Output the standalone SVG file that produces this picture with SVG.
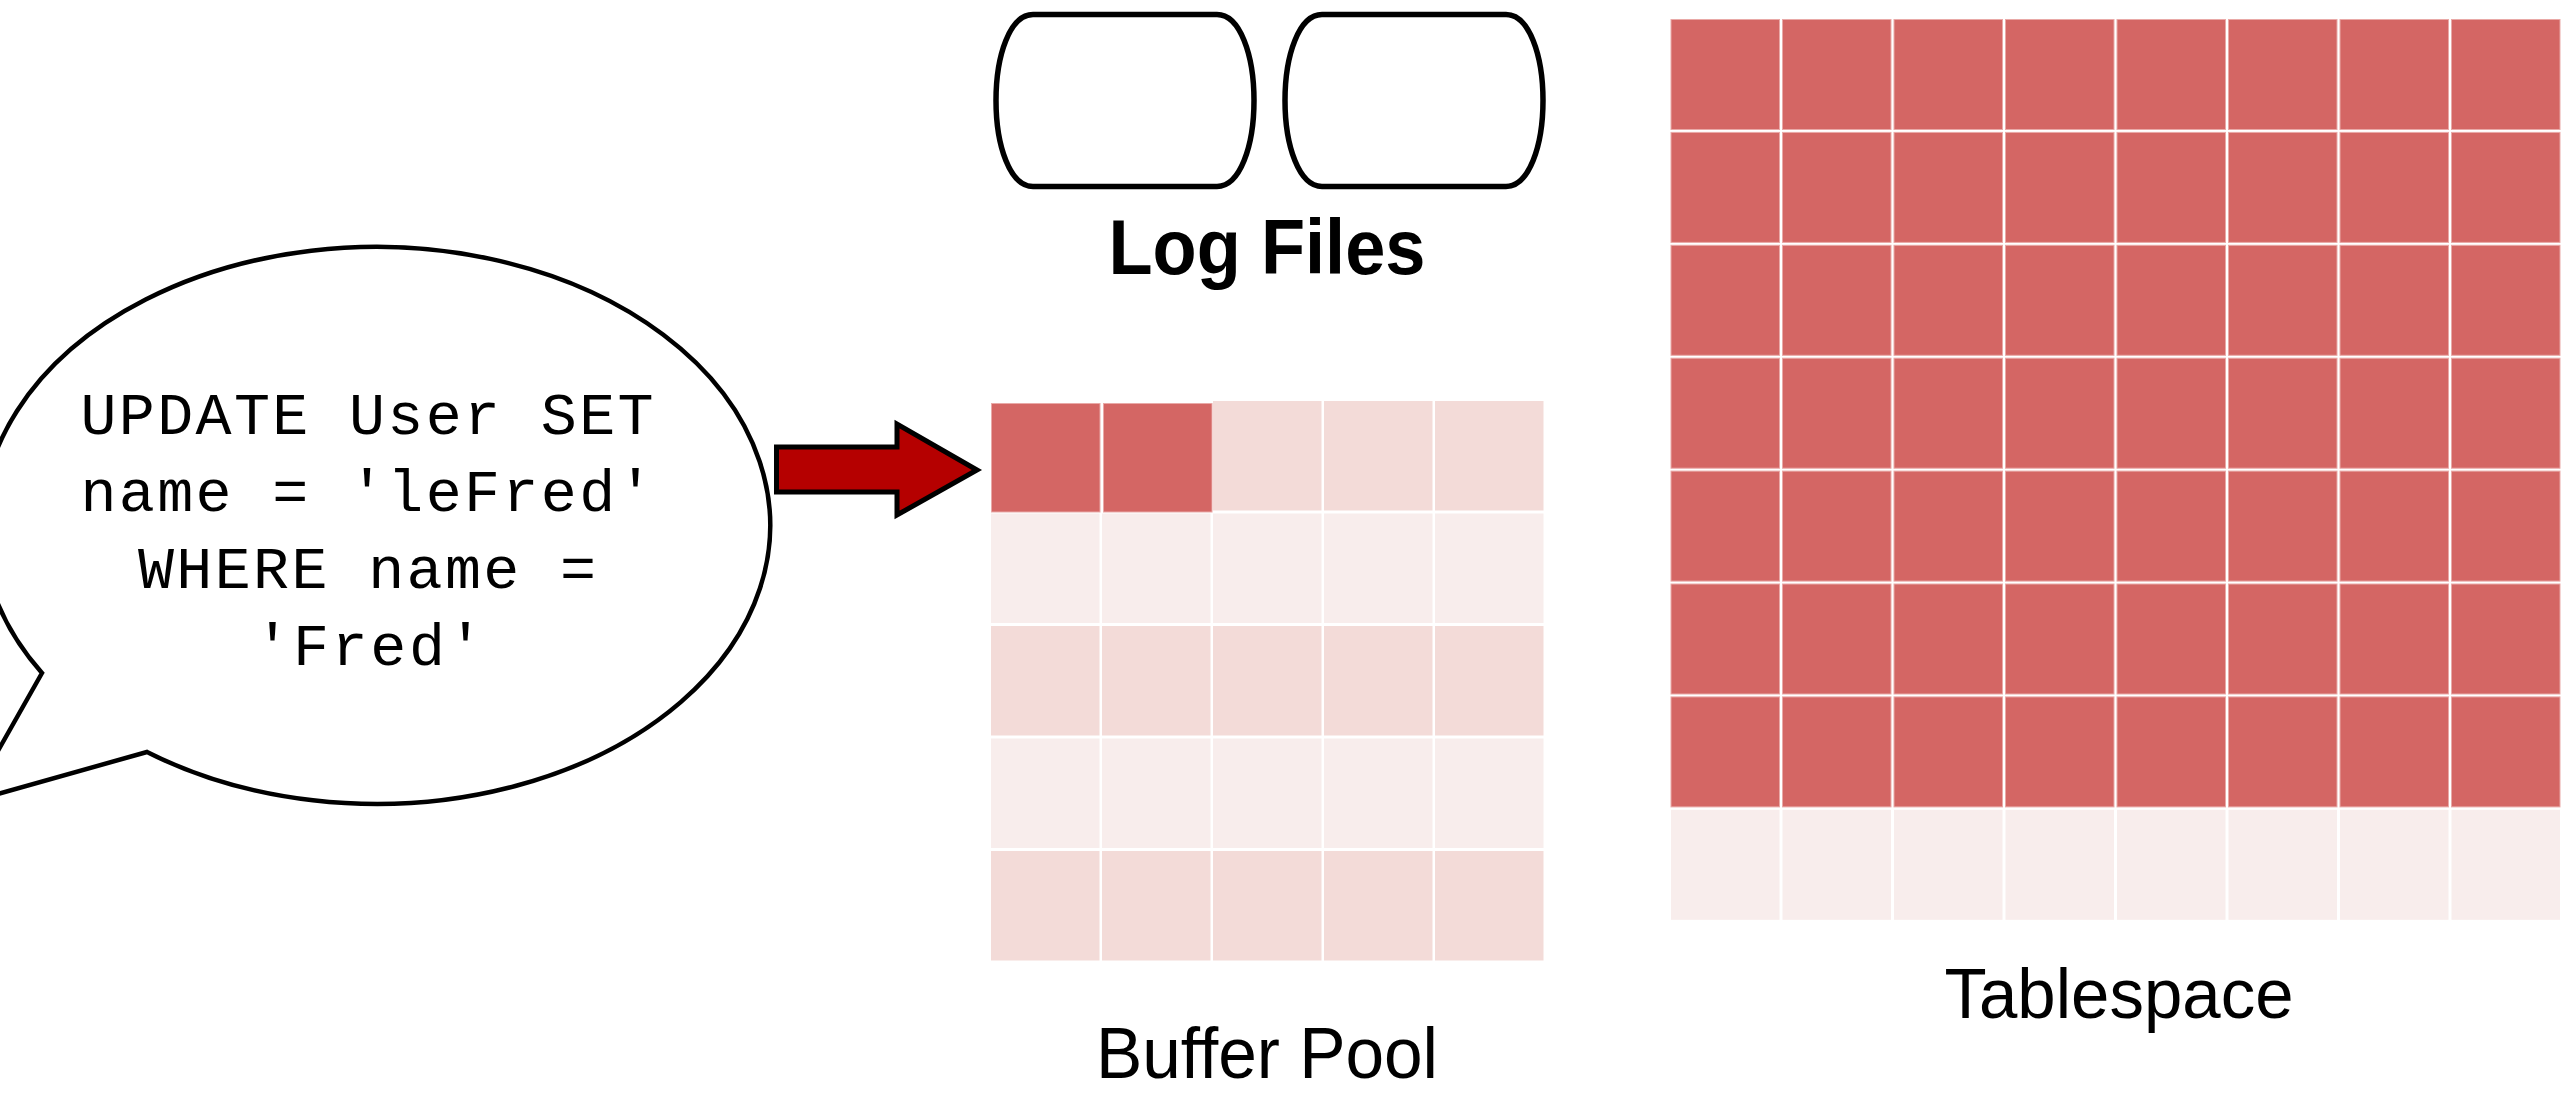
<svg xmlns="http://www.w3.org/2000/svg" width="2576" height="1094" viewBox="0 0 2576 1094">
  <style>
    .outline { fill: #ffffff; stroke: #000000; stroke-width: 5.5; stroke-linejoin: round; }
    .bubble { fill: #ffffff; stroke: #000000; stroke-width: 4.5; stroke-linejoin: miter; }
    .page-hot { fill: #d46664; stroke: #e9a9a7; stroke-width: 1; }
    .page-mid { fill: #f3dbd8; }
    .page-low { fill: #f8edec; }
    .code { font-family: "Liberation Mono", "DejaVu Sans Mono", monospace; font-size: 60px; fill: #000000; text-anchor: middle; }
    .label { font-family: "Liberation Sans", Arial, sans-serif; fill: #000000; text-anchor: middle; }
  </style>
  <defs>
    <path id="log-drum" d="M1033,14.5 H1217 C1240,14.5 1254,55 1254,100.5 C1254,146 1240,186.5 1217,186.5 H1033 C1010,186.5 996,146 996,100.5 C996,55 1010,14.5 1033,14.5 Z"/>
  </defs>

  <rect width="2576" height="1094" fill="#ffffff"/>

  <!-- SQL statement speech bubble -->
  <g id="query">
    <path class="bubble" d="M42,673 L-31,802 L147,752 A394,278.5 0 1 0 42,673 Z"/>
    <text class="code" x="367" y="434" textLength="573" lengthAdjust="spacing">UPDATE User SET</text>
    <text class="code" x="367" y="511" textLength="573" lengthAdjust="spacing">name = 'leFred'</text>
    <text class="code" x="367" y="588" textLength="458" lengthAdjust="spacing">WHERE name =</text>
    <text class="code" x="369" y="665" textLength="229" lengthAdjust="spacing">'Fred'</text>
  </g>

  <!-- redo log files -->
  <g id="log-files">
    <use href="#log-drum" class="outline"/>
    <use href="#log-drum" class="outline" transform="translate(289,0)"/>
    <text class="label" x="1267" y="274" font-size="78" font-weight="bold" textLength="317" lengthAdjust="spacingAndGlyphs">Log Files</text>
  </g>

  <!-- buffer pool: 5 x 5 pages, two of them dirty -->
  <g id="buffer-pool">
    <g class="page-mid">
      <rect x="1213" y="401" width="108.5" height="109.5"/>
      <rect x="1324" y="401" width="108.5" height="109.5"/>
      <rect x="1435" y="401" width="108.5" height="109.5"/>
    </g>
    <g class="page-low">
      <rect x="991" y="513.5" width="108.5" height="109.5"/>
      <rect x="1102" y="513.5" width="108.5" height="109.5"/>
      <rect x="1213" y="513.5" width="108.5" height="109.5"/>
      <rect x="1324" y="513.5" width="108.5" height="109.5"/>
      <rect x="1435" y="513.5" width="108.5" height="109.5"/>
    </g>
    <g class="page-mid">
      <rect x="991" y="626" width="108.5" height="109.5"/>
      <rect x="1102" y="626" width="108.5" height="109.5"/>
      <rect x="1213" y="626" width="108.5" height="109.5"/>
      <rect x="1324" y="626" width="108.5" height="109.5"/>
      <rect x="1435" y="626" width="108.5" height="109.5"/>
    </g>
    <g class="page-low">
      <rect x="991" y="738.5" width="108.5" height="109.5"/>
      <rect x="1102" y="738.5" width="108.5" height="109.5"/>
      <rect x="1213" y="738.5" width="108.5" height="109.5"/>
      <rect x="1324" y="738.5" width="108.5" height="109.5"/>
      <rect x="1435" y="738.5" width="108.5" height="109.5"/>
    </g>
    <g class="page-mid">
      <rect x="991" y="851" width="108.5" height="109.5"/>
      <rect x="1102" y="851" width="108.5" height="109.5"/>
      <rect x="1213" y="851" width="108.5" height="109.5"/>
      <rect x="1324" y="851" width="108.5" height="109.5"/>
      <rect x="1435" y="851" width="108.5" height="109.5"/>
    </g>
    <rect class="page-hot" x="991.5" y="403.5" width="108.5" height="108.5"/>
    <rect class="page-hot" x="1103.5" y="403.5" width="108.5" height="108.5"/>
    <text class="label" x="1267" y="1078" font-size="72" textLength="342" lengthAdjust="spacingAndGlyphs">Buffer Pool</text>
  </g>

  <!-- tablespace: 8 x 8 pages, last row free -->
  <g id="tablespace">
    <g class="page-hot">
      <rect x="1671" y="19.5" width="108.5" height="110"/><rect x="1782.5" y="19.5" width="108.5" height="110"/><rect x="1894" y="19.5" width="108.5" height="110"/><rect x="2005.5" y="19.5" width="108.5" height="110"/><rect x="2117" y="19.5" width="108.5" height="110"/><rect x="2228.5" y="19.5" width="108.5" height="110"/><rect x="2340" y="19.5" width="108.5" height="110"/><rect x="2451.5" y="19.5" width="108.5" height="110"/>
      <rect x="1671" y="132.4" width="108.5" height="110"/><rect x="1782.5" y="132.4" width="108.5" height="110"/><rect x="1894" y="132.4" width="108.5" height="110"/><rect x="2005.5" y="132.4" width="108.5" height="110"/><rect x="2117" y="132.4" width="108.5" height="110"/><rect x="2228.5" y="132.4" width="108.5" height="110"/><rect x="2340" y="132.4" width="108.5" height="110"/><rect x="2451.5" y="132.4" width="108.5" height="110"/>
      <rect x="1671" y="245.3" width="108.5" height="110"/><rect x="1782.5" y="245.3" width="108.5" height="110"/><rect x="1894" y="245.3" width="108.5" height="110"/><rect x="2005.5" y="245.3" width="108.5" height="110"/><rect x="2117" y="245.3" width="108.5" height="110"/><rect x="2228.5" y="245.3" width="108.5" height="110"/><rect x="2340" y="245.3" width="108.5" height="110"/><rect x="2451.5" y="245.3" width="108.5" height="110"/>
      <rect x="1671" y="358.2" width="108.5" height="110"/><rect x="1782.5" y="358.2" width="108.5" height="110"/><rect x="1894" y="358.2" width="108.5" height="110"/><rect x="2005.5" y="358.2" width="108.5" height="110"/><rect x="2117" y="358.2" width="108.5" height="110"/><rect x="2228.5" y="358.2" width="108.5" height="110"/><rect x="2340" y="358.2" width="108.5" height="110"/><rect x="2451.5" y="358.2" width="108.5" height="110"/>
      <rect x="1671" y="471.1" width="108.5" height="110"/><rect x="1782.5" y="471.1" width="108.5" height="110"/><rect x="1894" y="471.1" width="108.5" height="110"/><rect x="2005.5" y="471.1" width="108.5" height="110"/><rect x="2117" y="471.1" width="108.5" height="110"/><rect x="2228.5" y="471.1" width="108.5" height="110"/><rect x="2340" y="471.1" width="108.5" height="110"/><rect x="2451.5" y="471.1" width="108.5" height="110"/>
      <rect x="1671" y="584" width="108.5" height="110"/><rect x="1782.5" y="584" width="108.5" height="110"/><rect x="1894" y="584" width="108.5" height="110"/><rect x="2005.5" y="584" width="108.5" height="110"/><rect x="2117" y="584" width="108.5" height="110"/><rect x="2228.5" y="584" width="108.5" height="110"/><rect x="2340" y="584" width="108.5" height="110"/><rect x="2451.5" y="584" width="108.5" height="110"/>
      <rect x="1671" y="696.9" width="108.5" height="110"/><rect x="1782.5" y="696.9" width="108.5" height="110"/><rect x="1894" y="696.9" width="108.5" height="110"/><rect x="2005.5" y="696.9" width="108.5" height="110"/><rect x="2117" y="696.9" width="108.5" height="110"/><rect x="2228.5" y="696.9" width="108.5" height="110"/><rect x="2340" y="696.9" width="108.5" height="110"/><rect x="2451.5" y="696.9" width="108.5" height="110"/>
    </g>
    <g class="page-low">
      <rect x="1671" y="809.8" width="108.5" height="110"/><rect x="1782.5" y="809.8" width="108.5" height="110"/><rect x="1894" y="809.8" width="108.5" height="110"/><rect x="2005.5" y="809.8" width="108.5" height="110"/><rect x="2117" y="809.8" width="108.5" height="110"/><rect x="2228.5" y="809.8" width="108.5" height="110"/><rect x="2340" y="809.8" width="108.5" height="110"/><rect x="2451.5" y="809.8" width="108.5" height="110"/>
    </g>
    <text class="label" x="2119" y="1018" font-size="70" textLength="349" lengthAdjust="spacingAndGlyphs">Tablespace</text>
  </g>

  <!-- query writes into the buffer pool -->
  <g id="connectors">
    <path d="M776.5,447 H897 V424 L977,470 L897,515 V492 H776.5 Z" fill="#b50000" stroke="#000000" stroke-width="5" stroke-linejoin="miter" stroke-miterlimit="10"/>
  </g>
</svg>
